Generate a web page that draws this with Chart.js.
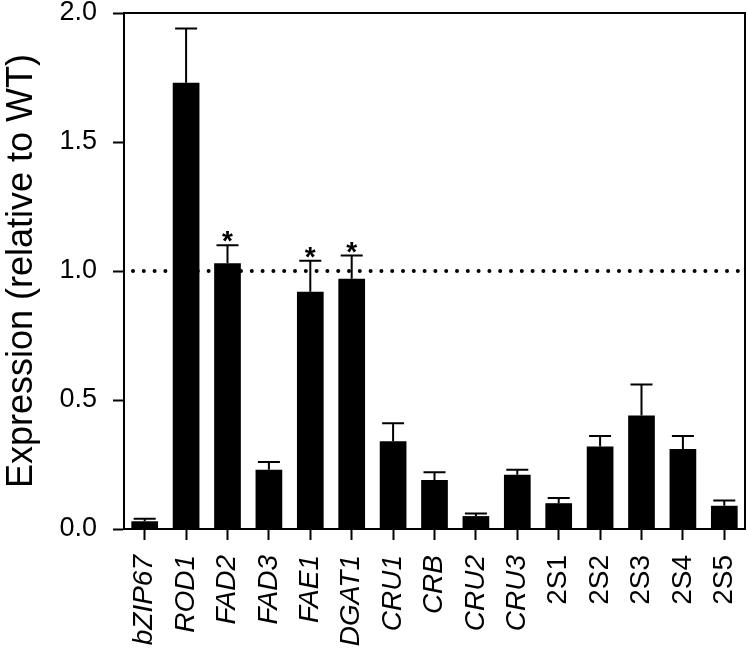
<!DOCTYPE html>
<html>
<head>
<meta charset="utf-8">
<script src="https://cdn.jsdelivr.net/npm/chart.js@4/dist/chart.umd.min.js"></script>
<style>
  html, body { margin: 0; padding: 0; background: #fff; }
  #wrap { width: 748px; height: 651px; position: relative; }
</style>
</head>
<body>
<div id="wrap"><canvas id="chart"></canvas></div>
<script>
  // data
  var genes = ['bZIP67', 'ROD1', 'FAD2', 'FAD3', 'FAE1', 'DGAT1', 'CRU1', 'CRB', 'CRU2', 'CRU3', '2S1', '2S2', '2S3', '2S4', '2S5'];
  var expression = [0.03, 1.73, 1.03, 0.23, 0.92, 0.97, 0.34, 0.19, 0.05, 0.21, 0.10, 0.32, 0.44, 0.31, 0.09];
  var errors = [0.01, 0.21, 0.07, 0.03, 0.12, 0.09, 0.07, 0.03, 0.01, 0.02, 0.02, 0.04, 0.12, 0.05, 0.02];
  var significant = ['FAD2', 'FAE1', 'DGAT1'];
  var uprightLabels = ['2S1', '2S2', '2S3', '2S4', '2S5'];
  var wtLevel = 1.0;

  var FONT = "'Liberation Sans', Arial, sans-serif";

  // upper error bars + asterisks
  var errorBars = {
    id: 'errorBars',
    afterDatasetsDraw: function(chart) {
      var ctx = chart.ctx;
      var y = chart.scales.y;
      var meta = chart.getDatasetMeta(0);
      ctx.save();
      ctx.strokeStyle = '#000';
      ctx.fillStyle = '#000';
      ctx.lineWidth = 2;
      meta.data.forEach(function(bar, i) {
        var top = y.getPixelForValue(expression[i]);
        var cap = y.getPixelForValue(expression[i] + errors[i]);
        ctx.beginPath();
        ctx.moveTo(bar.x, top);
        ctx.lineTo(bar.x, cap);
        ctx.moveTo(bar.x - 11, cap);
        ctx.lineTo(bar.x + 11, cap);
        ctx.stroke();
        if (significant.indexOf(genes[i]) >= 0) {
          ctx.font = 'bold 28px ' + FONT;
          ctx.textAlign = 'center';
          ctx.textBaseline = 'alphabetic';
          ctx.fillText('*', bar.x, cap + 5);
        }
      });
      ctx.restore();
    }
  };

  // dotted WT line, top and right frame
  var frame = {
    id: 'frame',
    beforeDatasetsDraw: function(chart) {
      var ctx = chart.ctx;
      var a = chart.chartArea;
      var yl = chart.scales.y.getPixelForValue(wtLevel);
      ctx.save();
      ctx.strokeStyle = '#000';
      ctx.lineWidth = 4;
      ctx.lineCap = 'round';
      ctx.setLineDash([0, 10.8]);
      ctx.beginPath();
      ctx.moveTo(a.left + 9, yl);
      ctx.lineTo(a.right, yl);
      ctx.stroke();
      ctx.restore();
    },
    afterDraw: function(chart) {
      var ctx = chart.ctx;
      var a = chart.chartArea;
      ctx.save();
      ctx.strokeStyle = '#000';
      ctx.lineWidth = 2;
      ctx.beginPath();
      ctx.moveTo(a.left, a.top);
      ctx.lineTo(a.right, a.top);
      ctx.lineTo(a.right, a.bottom);
      ctx.stroke();
      ctx.restore();
    }
  };

  new Chart(document.getElementById('chart'), {
    type: 'bar',
    data: {
      labels: genes,
      datasets: [{
        data: expression,
        backgroundColor: '#000',
        borderWidth: 0,
        barPercentage: 0.645,
        categoryPercentage: 1.0
      }]
    },
    plugins: [frame, errorBars],
    options: {
      responsive: true,
      maintainAspectRatio: false,
      animation: false,
      layout: { padding: { top: 13, right: 3, left: 0, bottom: 0 } },
      plugins: {
        legend: { display: false },
        tooltip: { enabled: false }
      },
      scales: {
        x: {
          afterFit: function(s) {
            s.height = 122;
            s.paddingLeft = 0;
            s.paddingRight = 0;
          },
          grid: {
            offset: false,
            drawOnChartArea: false,
            drawTicks: true,
            tickLength: 11,
            tickWidth: 2,
            tickColor: '#000'
          },
          border: { color: '#000', width: 2 },
          ticks: {
            autoSkip: false,
            maxRotation: 90,
            minRotation: 90,
            padding: 15,
            color: '#000',
            font: function(c) {
              var lbl = genes[c.index];
              return { family: FONT, size: 28, style: uprightLabels.indexOf(lbl) >= 0 ? 'normal' : 'italic' };
            }
          }
        },
        y: {
          min: 0,
          max: 2,
          afterFit: function(s) {
            s.width = 124;
            s.paddingTop = 0;
            s.paddingBottom = 0;
          },
          grid: {
            drawOnChartArea: false,
            drawTicks: true,
            tickLength: 11,
            tickWidth: 2,
            tickColor: '#000'
          },
          border: { color: '#000', width: 2 },
          ticks: {
            stepSize: 0.5,
            padding: 16,
            color: '#000',
            font: { family: FONT, size: 27 },
            callback: function(v) { return v.toFixed(1); }
          },
          title: {
            display: true,
            text: 'Expression (relative to WT)',
            color: '#000',
            font: { family: FONT, size: 36 },
            padding: { top: 0, bottom: 0 }
          }
        }
      }
    }
  });
</script>
</body>
</html>
